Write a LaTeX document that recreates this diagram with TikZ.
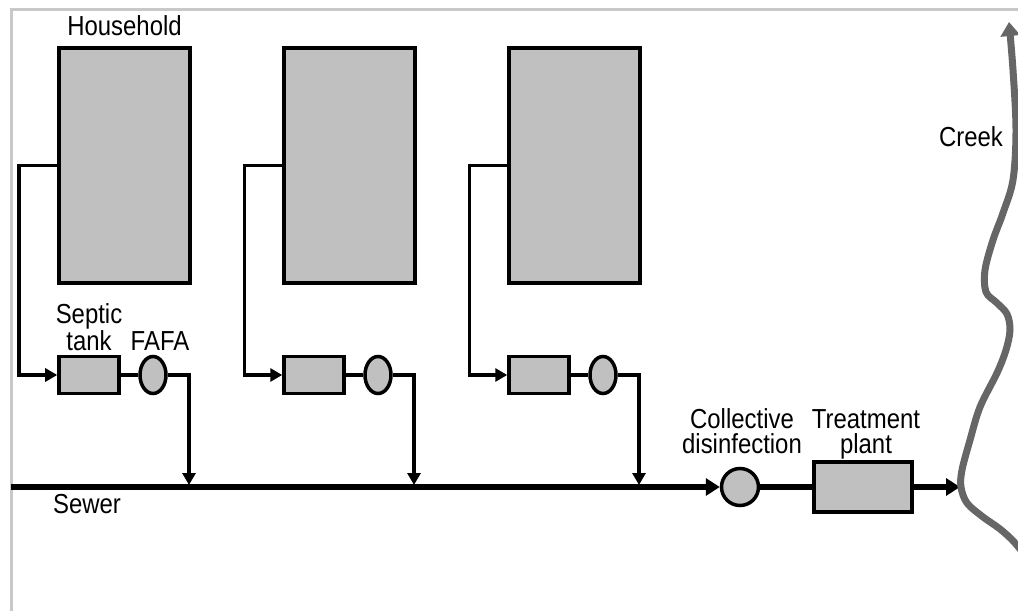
\documentclass[tikz,border=0pt]{standalone}
\usepackage{fontspec}
\setmainfont[FakeStretch=0.87]{Liberation Sans}
\usetikzlibrary{arrows.meta,shapes.geometric}
\definecolor{boxgray}{HTML}{C0C0C0}
\definecolor{framegray}{HTML}{C8C8C8}
\definecolor{creekgray}{HTML}{666666}
\begin{document}
\begin{tikzpicture}[x=1bp,y=-1bp,
  lbl/.style={inner sep=0pt, anchor=base, align=center, font=\fontsize{27.5bp}{25bp}\selectfont},
  house/.style={draw, line width=3.5bp, fill=boxgray, minimum width=131bp, minimum height=235bp, inner sep=0pt},
  tank/.style={draw, line width=3.5bp, fill=boxgray, minimum width=60bp, minimum height=37bp, inner sep=0pt},
  fafa/.style={draw, ellipse, line width=3.5bp, fill=boxgray, minimum width=26bp, minimum height=37bp, inner sep=0pt},
  pipe/.style={line width=3.5bp},
  smallarrow/.style={pipe, -{Triangle[length=12bp,width=13bp]}},
  mainline/.style={line width=5.5bp},
  bigarrow/.style={mainline, -{Triangle[length=14bp,width=17bp]}},
]
\useasboundingbox (0,0) rectangle (1018,611);
\clip (0,0) rectangle (1018,611);
% frame
\draw[framegray, line width=3bp] (11,630) |- (1040,10);

% households
\foreach \i/\dx in {1/0,2/225,3/450}{
  \node[house] (h\i) at (124.5+\dx,165.5) {};
  \node[tank] (t\i) at (89+\dx,375) {};
  \node[fafa] (f\i) at (153+\dx,375) {};
  \coordinate (d\i) at (189+\dx,485);
  \draw[smallarrow] (h\i.west) -- ++(-38,0) |- (t\i.west);
  \draw[pipe] (t\i.east) -- (f\i.west);
  \draw[smallarrow] (f\i.east) -| (d\i);
}

% sewer and treatment
\coordinate (sw) at (11,487);
\node[draw, circle, line width=3.5bp, fill=boxgray, minimum size=37bp, inner sep=0pt] (cd) at (740,487) {};
\node[draw, line width=3.5bp, fill=boxgray, minimum width=98bp, minimum height=50bp, inner sep=0pt] (tp) at (863,487) {};
\coordinate (cr) at (960,487);
\draw[bigarrow] (sw) -- (cd.west);
\draw[mainline, line width=6.5bp] (cd.east) -- (tp.west);
\draw[bigarrow, line width=6.5bp] (tp.east) -- (cr);

% creek
\draw[creekgray, line width=7bp, -{Triangle[length=14bp,width=19bp]}]
  plot[smooth, tension=0.55] coordinates {(1035,568) (1015,543) (1000,529) (983,517) (967,503) (961,487) (962,470) (970,440) (980,407) (997,373) (1006,350) (1010,330) (1007,314) (997,303) (986,292) (985,270) (993,240) (1003,213) (1013,180) (1016,130) (1013,70) (1009,22)};

% labels
\node[lbl] (lh) at (124.5,36) {Household};
\node[lbl] (ls) at (89,350) {Septic\\tank};
\node[lbl] (lf) at (160,350) {FAFA};
\node[lbl] (lsw) at (87,513) {Sewer};
\node[lbl] (lcd) at (742,453) {Collective\\disinfection};
\node[lbl] (ltp) at (866,453) {Treatment\\plant};
\node[lbl] (lc) at (971,147) {Creek};
\end{tikzpicture}
\end{document}
